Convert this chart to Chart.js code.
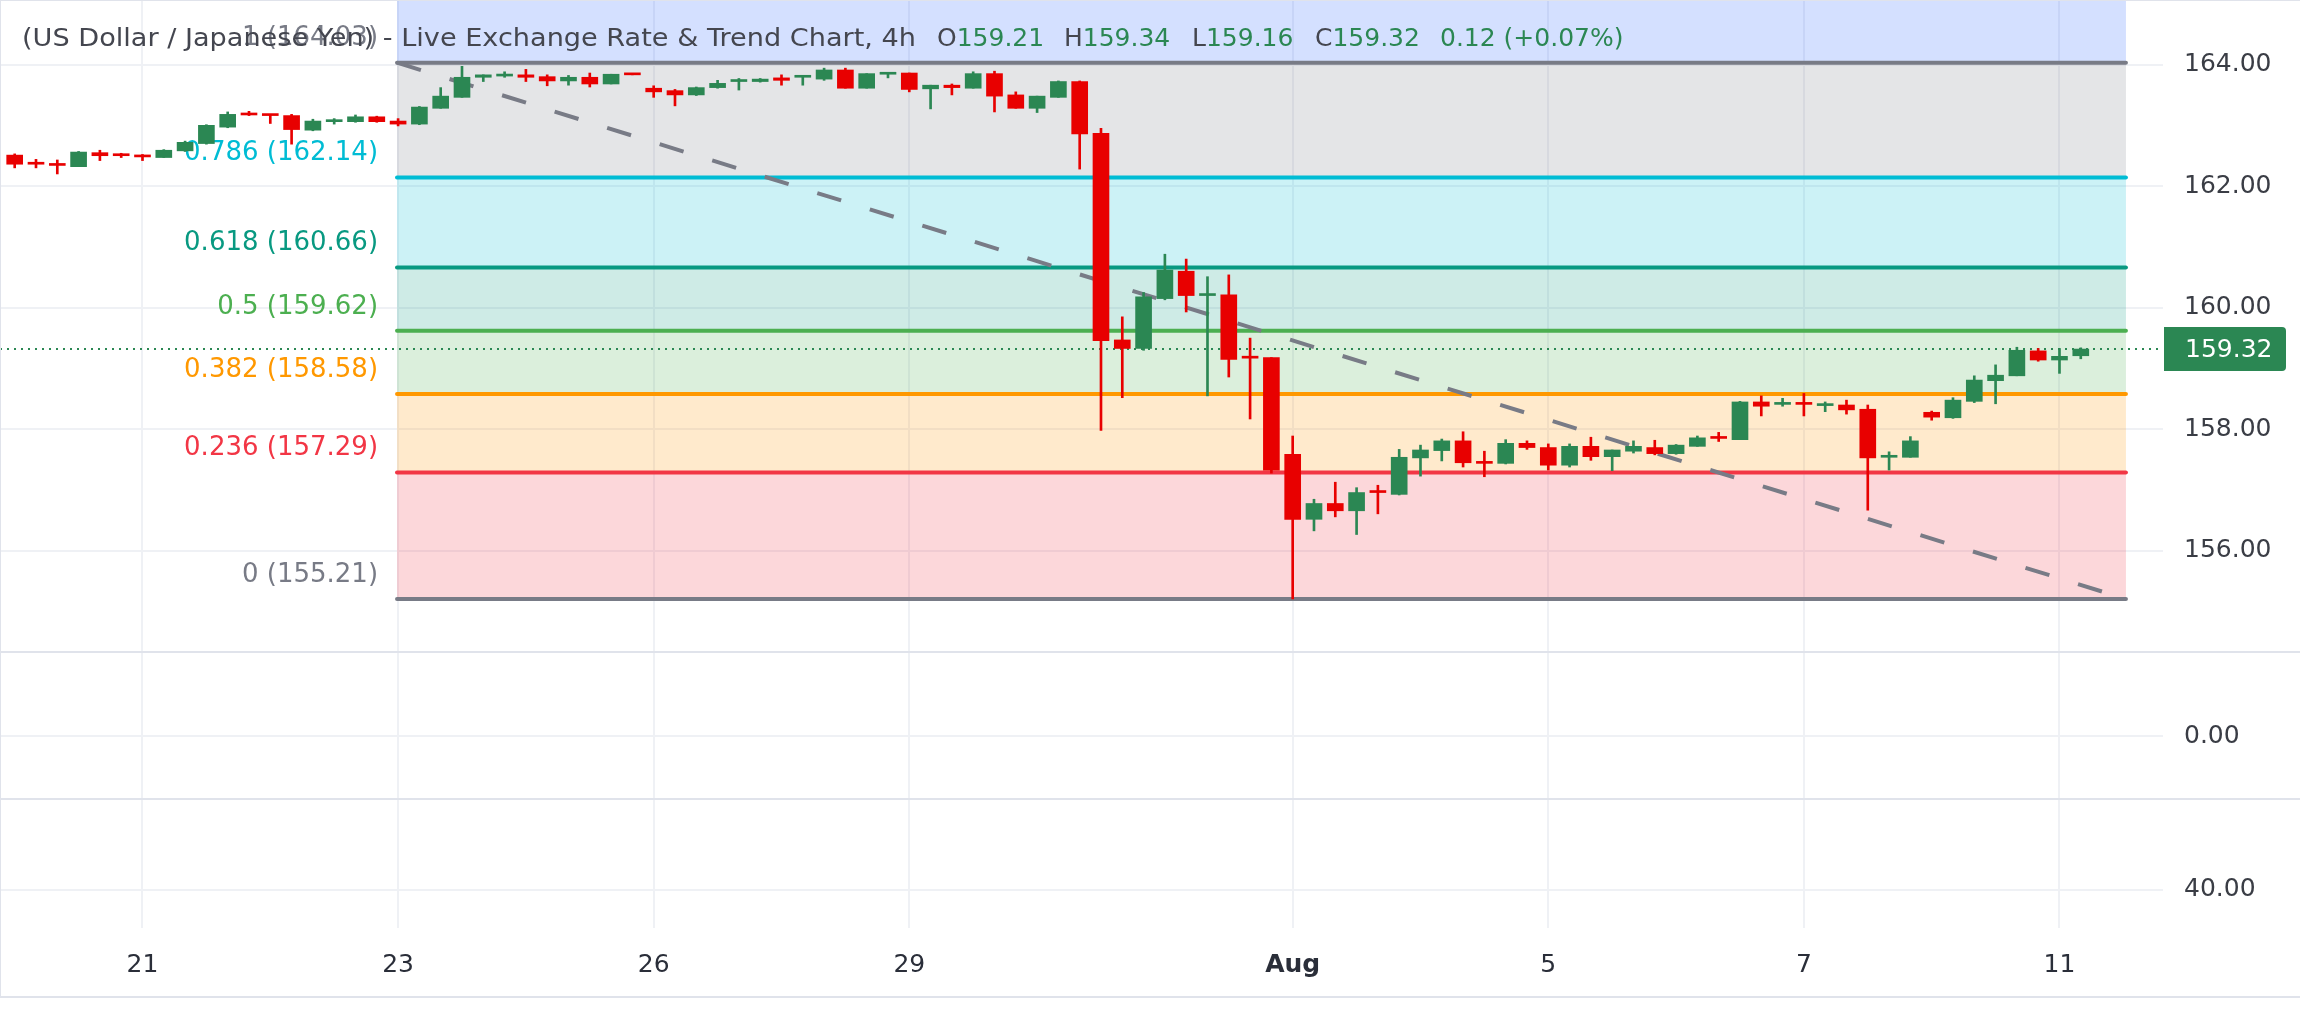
<!DOCTYPE html>
<html>
<head>
<meta charset="utf-8">
<title>USD/JPY 4h</title>
<script src="https://cdn.jsdelivr.net/npm/chart.js@4.4.1/dist/chart.umd.min.js"></script>
<style>
  body { margin: 0; background: #fff; }
  #wrap { position: relative; width: 2300px; height: 1030px; overflow: hidden; background: #fff; }
  #wrap canvas { position: absolute; left: 0; }
  .sep { position: absolute; left: 0; width: 2300px; height: 2px; background: #e0e3eb; }
</style>
</head>
<body>
<div id="wrap">
  <canvas id="price" width="2300" height="651" style="top:0;width:2300px;height:651px"></canvas>
  <div class="sep" style="top:651px"></div>
  <canvas id="pane2" width="2300" height="145" style="top:653px;width:2300px;height:145px"></canvas>
  <div class="sep" style="top:798px"></div>
  <canvas id="pane3" width="2300" height="196" style="top:800px;width:2300px;height:196px"></canvas>
  <div class="sep" style="top:996px"></div>
  <div style="position:absolute;left:0;top:0;width:2300px;height:1px;background:#e0e3eb"></div>
  <div style="position:absolute;left:0;top:0;width:1px;height:997px;background:#e0e3eb"></div>
</div>
<script>
// 4h candles, USD/JPY
const opens = [162.51, 162.38, 162.36, 162.32, 162.55, 162.52, 162.50, 162.47, 162.58, 162.70,
  162.97, 163.20, 163.18, 163.16, 162.92, 163.06, 163.06, 163.14, 163.07, 163.02,
  163.28, 163.46, 163.79, 163.81, 163.83, 163.80, 163.73, 163.79, 163.68, 163.85,
  163.61, 163.57, 163.50, 163.62, 163.72, 163.72, 163.78, 163.79, 163.76, 163.91,
  163.61, 163.84, 163.86, 163.60, 163.66, 163.61, 163.85, 163.50, 163.28, 163.46,
  163.72, 162.87, 159.47, 159.33, 160.15, 160.60, 160.20, 160.21, 159.19, 159.18,
  157.59, 156.52, 156.78, 156.66, 156.98, 156.93, 157.53, 157.65, 157.81, 157.46,
  157.44, 157.77, 157.70, 157.41, 157.72, 157.55, 157.64, 157.70, 157.60, 157.72,
  157.88, 157.83, 158.45, 158.41, 158.43, 158.39, 158.40, 158.33, 157.54, 157.54,
  158.28, 158.19, 158.46, 158.80, 158.88, 159.29, 159.14, 159.21];
const highs = [162.53, 162.44, 162.43, 162.57, 162.59, 162.54, 162.52, 162.60, 162.74, 163.01,
  163.22, 163.23, 163.18, 163.18, 163.10, 163.11, 163.17, 163.15, 163.11, 163.31,
  163.62, 163.97, 163.83, 163.88, 163.92, 163.83, 163.82, 163.86, 163.84, 163.85,
  163.65, 163.59, 163.63, 163.74, 163.77, 163.77, 163.83, 163.81, 163.94, 163.94,
  163.85, 163.87, 163.86, 163.66, 163.68, 163.88, 163.89, 163.55, 163.48, 163.73,
  163.73, 162.95, 159.85, 160.25, 160.88, 160.80, 160.51, 160.54, 159.50, 159.18,
  157.89, 156.85, 157.13, 157.04, 157.08, 157.67, 157.74, 157.84, 157.96, 157.64,
  157.83, 157.81, 157.76, 157.76, 157.87, 157.66, 157.81, 157.82, 157.75, 157.89,
  157.95, 158.46, 158.55, 158.51, 158.59, 158.45, 158.48, 158.40, 157.63, 157.88,
  158.30, 158.52, 158.88, 159.06, 159.35, 159.33, 159.33, 159.34];
const lows = [162.30, 162.30, 162.20, 162.32, 162.42, 162.47, 162.42, 162.47, 162.57, 162.69,
  162.96, 163.16, 163.03, 162.69, 162.91, 163.02, 163.05, 163.05, 162.99, 163.01,
  163.28, 163.46, 163.72, 163.79, 163.72, 163.65, 163.66, 163.63, 163.68, 163.83,
  163.46, 163.32, 163.49, 163.61, 163.58, 163.71, 163.66, 163.66, 163.74, 163.61,
  163.61, 163.78, 163.55, 163.27, 163.50, 163.61, 163.22, 163.28, 163.21, 163.46,
  162.28, 157.98, 158.52, 159.30, 160.13, 159.93, 158.55, 158.86, 158.17, 157.28,
  155.21, 156.33, 156.56, 156.27, 156.61, 156.92, 157.23, 157.48, 157.38, 157.22,
  157.43, 157.67, 157.33, 157.38, 157.49, 157.32, 157.61, 157.58, 157.59, 157.72,
  157.80, 157.83, 158.22, 158.38, 158.22, 158.29, 158.25, 156.67, 157.33, 157.54,
  158.15, 158.18, 158.44, 158.42, 158.88, 159.12, 158.92, 159.16];
const closes = [162.36, 162.36, 162.34, 162.56, 162.50, 162.50, 162.48, 162.59, 162.72, 163.00,
  163.18, 163.17, 163.16, 162.93, 163.07, 163.08, 163.14, 163.06, 163.02, 163.30,
  163.48, 163.79, 163.83, 163.84, 163.79, 163.73, 163.79, 163.68, 163.84, 163.83,
  163.55, 163.50, 163.62, 163.69, 163.74, 163.76, 163.74, 163.81, 163.91, 163.61,
  163.85, 163.87, 163.59, 163.66, 163.62, 163.85, 163.48, 163.28, 163.48, 163.72,
  162.86, 159.46, 159.33, 160.18, 160.62, 160.20, 160.22, 159.15, 159.17, 157.33,
  156.52, 156.78, 156.66, 156.96, 156.96, 157.54, 157.66, 157.81, 157.45, 157.44,
  157.77, 157.70, 157.41, 157.72, 157.55, 157.66, 157.72, 157.60, 157.74, 157.86,
  157.85, 158.45, 158.38, 158.43, 158.41, 158.42, 158.32, 157.53, 157.57, 157.81,
  158.20, 158.48, 158.81, 158.89, 159.30, 159.14, 159.20, 159.32];

const timeTickIdx = [6, 18, 30, 42, 60, 72, 84, 96];
const timeTickLabels = ['21', '23', '26', '29', 'Aug', '5', '7', '11'];
const priceTicks = [156, 158, 160, 162, 164];

const fibRatios = ['1', '0.786', '0.618', '0.5', '0.382', '0.236', '0'];
const fibPrices = [164.03, 162.14, 160.66, 159.62, 158.58, 157.29, 155.21];
const fibAnchorIdx = [17.95, 99.12];
const lastPrice = 159.32;

const FONT = 'DejaVu Sans';
const GREEN = '#2b8753';
const RED = '#e80000';
const DARK = '#44464f';
const fibColors = ['#787b86', '#00bcd4', '#089981', '#4caf50', '#ff9800', '#f23645', '#787b86'];

Chart.defaults.font.family = FONT;
Chart.defaults.font.size = 25;
Chart.defaults.color = '#3a3d45';
Chart.defaults.animation = false;

const X_MIN = -0.69, X_MAX = 100.86;

function xScale(showLabels) {
  return {
    type: 'linear', min: X_MIN, max: X_MAX, offset: false,
    grid: { color: '#eff1f5', lineWidth: 2, drawTicks: false, offset: false },
    border: { display: false },
    afterBuildTicks: s => { s.ticks = timeTickIdx.map(v => ({ value: v })); },
    afterFit: s => { s.paddingLeft = 0; s.paddingRight = 0; s.height = showLabels ? 68 : 0; },
    ticks: {
      display: showLabels, autoSkip: false, maxRotation: 0, padding: 22, color: '#2a2e39',
      callback: (v, i) => timeTickLabels[i],
      font: c => ({ family: FONT, size: 25, weight: c.tick && c.tick.label === 'Aug' ? 'bold' : 'normal' })
    }
  };
}

function yScale(min, max, ticks) {
  return {
    type: 'linear', position: 'right', min: min, max: max,
    grid: { color: '#eff1f5', lineWidth: 2, drawTicks: false },
    border: { display: false },
    afterBuildTicks: s => { s.ticks = ticks.map(v => ({ value: v })); },
    afterFit: s => { s.width = 137; s.paddingTop = 0; s.paddingBottom = 0; },
    ticks: { padding: 21, color: '#3a3d45', callback: v => v.toFixed(2) }
  };
}

// fib zones, levels, labels, header and last price tag
const fibPlugin = {
  id: 'fib',
  beforeDatasetsDraw(chart) {
    const { ctx, chartArea: a, scales: { x, y } } = chart;
    const x0 = x.getPixelForValue(fibAnchorIdx[0]);
    const x1 = x.getPixelForValue(fibAnchorIdx[1]);
    const py = fibPrices.map(p => y.getPixelForValue(p));
    ctx.save();
    ctx.globalAlpha = 0.2;
    ctx.fillStyle = '#2962ff';
    ctx.fillRect(x0, a.top, x1 - x0, py[0] - a.top);
    for (let i = 0; i < py.length - 1; i++) {
      ctx.fillStyle = fibColors[i];
      ctx.fillRect(x0, py[i], x1 - x0, py[i + 1] - py[i]);
    }
    ctx.globalAlpha = 1;
    ctx.lineWidth = 4;
    ctx.lineCap = 'round';
    ctx.font = '26px "' + FONT + '"';
    ctx.textAlign = 'right';
    ctx.textBaseline = 'middle';
    py.forEach((yy, i) => {
      ctx.strokeStyle = fibColors[i];
      ctx.beginPath();
      ctx.moveTo(x0, yy);
      ctx.lineTo(x1, yy);
      ctx.stroke();
      ctx.fillStyle = fibColors[i];
      ctx.fillText(fibRatios[i] + ' (' + fibPrices[i].toFixed(2) + ')', x0 - 19, yy - 24);
    });
    const ly = y.getPixelForValue(lastPrice);
    ctx.strokeStyle = GREEN;
    ctx.lineWidth = 2;
    ctx.lineCap = 'butt';
    ctx.setLineDash([2, 5]);
    ctx.beginPath();
    ctx.moveTo(a.left, ly);
    ctx.lineTo(a.right, ly);
    ctx.stroke();
    ctx.restore();
  },
  afterDraw(chart) {
    const { ctx, chartArea: a, scales: { y } } = chart;
    const n = closes.length - 1;
    ctx.save();
    ctx.font = '25px "' + FONT + '"';
    ctx.textBaseline = 'middle';
    ctx.textAlign = 'left';
    // header
    const main = '(US Dollar / Japanese Yen) - Live Exchange Rate & Trend Chart, 4h';
    const w = ctx.measureText(main).width;
    ctx.fillStyle = DARK;
    ctx.save();
    ctx.translate(22, 39);
    ctx.scale(894 / w, 1);
    ctx.fillText(main, 0, 0);
    ctx.restore();
    const parts = [
      ['O', opens[n].toFixed(2), 937],
      ['H', highs[n].toFixed(2), 1064],
      ['L', lows[n].toFixed(2), 1192],
      ['C', closes[n].toFixed(2), 1315],
      ['', '0.12 (+0.07%)', 1440]
    ];
    parts.forEach(([k, v, px]) => {
      ctx.fillStyle = DARK;
      ctx.fillText(k, px, 39);
      ctx.fillStyle = GREEN;
      ctx.fillText(v, px + ctx.measureText(k).width, 39);
    });
    // last price tag
    const ty = y.getPixelForValue(lastPrice);
    ctx.fillStyle = GREEN;
    ctx.beginPath();
    ctx.roundRect(a.right + 1, ty - 22, 122, 44, [0, 4, 4, 0]);
    ctx.fill();
    ctx.fillStyle = '#ffffff';
    ctx.fillText(lastPrice.toFixed(2), a.right + 22, ty + 1);
    ctx.restore();
  }
};

const candleColors = opens.map((o, i) => closes[i] >= o ? GREEN : RED);

new Chart(document.getElementById('price'), {
  type: 'bar',
  data: {
    datasets: [
      {
        label: 'Body',
        data: opens.map((o, i) => ({ x: i, y: [o, closes[i]] })),
        backgroundColor: candleColors,
        barThickness: 16,
        minBarLength: 2,
        grouped: false,
        order: 1
      },
      {
        label: 'Wick',
        data: highs.map((h, i) => ({ x: i, y: [lows[i], h] })),
        backgroundColor: candleColors,
        barThickness: 2,
        grouped: false,
        order: 2
      },
      {
        type: 'line',
        label: 'Trend',
        data: [
          { x: fibAnchorIdx[0], y: fibPrices[0] },
          { x: fibAnchorIdx[1], y: fibPrices[fibPrices.length - 1] }
        ],
        borderColor: '#787b86',
        borderWidth: 4,
        borderDash: [25, 30],
        pointRadius: 0,
        order: 3
      }
    ]
  },
  options: {
    responsive: false,
    devicePixelRatio: 1,
    layout: { padding: 0, autoPadding: false },
    plugins: { legend: { display: false }, tooltip: { enabled: false } },
    scales: {
      x: xScale(false),
      y: yScale(154.354, 165.061, priceTicks)
    }
  },
  plugins: [fibPlugin]
});

new Chart(document.getElementById('pane2'), {
  type: 'line',
  data: { datasets: [] },
  options: {
    responsive: false,
    devicePixelRatio: 1,
    layout: { padding: 0, autoPadding: false },
    plugins: { legend: { display: false }, tooltip: { enabled: false } },
    scales: { x: xScale(false), y: yScale(-0.855, 1.145, [0]) }
  }
});

new Chart(document.getElementById('pane3'), {
  type: 'line',
  data: { datasets: [] },
  options: {
    responsive: false,
    devicePixelRatio: 1,
    layout: { padding: 0, autoPadding: false },
    plugins: { legend: { display: false }, tooltip: { enabled: false } },
    scales: { x: xScale(true), y: yScale(10.3, 110.3, [40]) }
  }
});
</script>
</body>
</html>
